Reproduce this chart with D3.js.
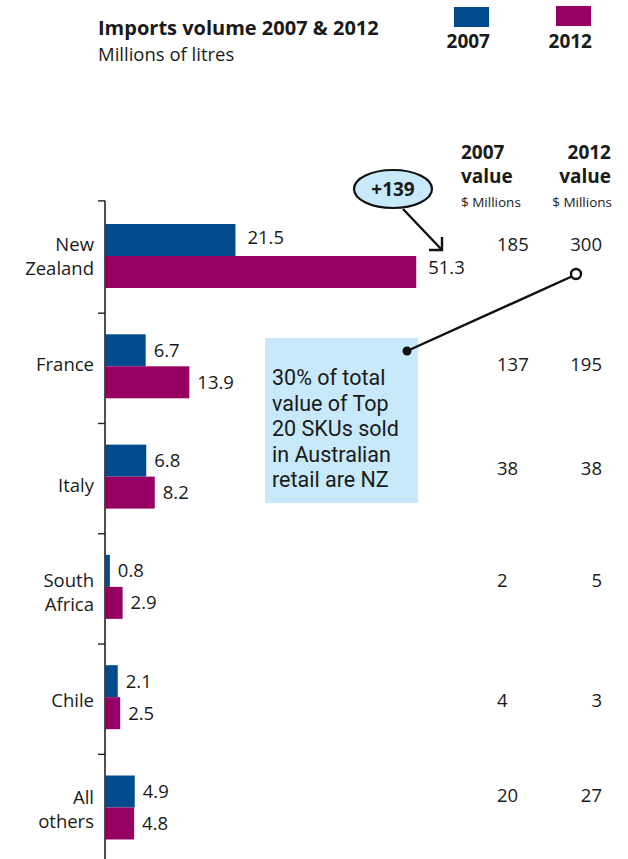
<!DOCTYPE html>
<html>
<head>
<meta charset="utf-8">
<script src="https://cdn.jsdelivr.net/npm/d3@7/dist/d3.min.js"></script>
<style>
  body { margin: 0; background: #fff; }
  text { font-family: "Open Sans", "Noto Sans", sans-serif; fill: #1a1a1a; }
</style>
</head>
<body>
<script>
// chart values
var categories = ["New Zealand", "France", "Italy", "South Africa", "Chile", "All others"];
var categoryLines = [["New", "Zealand"], ["France"], ["Italy"], ["South", "Africa"], ["Chile"], ["All", "others"]];
var years = ["2007", "2012"];
var volume2007 = [21.5, 6.7, 6.8, 0.8, 2.1, 4.9];
var volume2012 = [51.3, 13.9, 8.2, 2.9, 2.5, 4.8];
var value2007 = [185, 137, 38, 2, 4, 20];
var value2012 = [300, 195, 38, 5, 3, 27];
var calloutLines = ["30% of total", "value of Top", "20 SKUs sold", "in Australian", "retail are NZ"];
var changeLabel = "+139";

var colors = {"2007": "#004b8d", "2012": "#970062"};
// small hand offsets of the row texts, as in the original layout
var labelShift = [-5, 5, 15, 0, 10, -3];
var valueShift = [-5, 5, -2, 0, 10, -5];

var svg = d3.select("body").append("svg")
    .attr("width", 628).attr("height", 859);

var x = d3.scaleLinear().domain([0, 60]).range([105, 469]);
var y = d3.scaleBand().domain(categories).range([177.7, 885.8]).padding(0.42);
var sub = d3.scaleBand().domain(years).range([0, y.bandwidth()]);

// title
svg.append("text").attr("x", 98).attr("y", 35)
    .style("font-size", "20px").style("font-weight", "bold")
    .text("Imports volume 2007 & 2012");
svg.append("text").attr("x", 98).attr("y", 61)
    .style("font-size", "18.5px")
    .text("Millions of litres");

// legend
var legendX = {"2007": 454, "2012": 556};
var legend = svg.selectAll("g.legend").data(years).enter()
    .append("g").attr("class", "legend");
legend.append("rect")
    .attr("x", function(d) { return legendX[d]; })
    .attr("y", function(d, i) { return 7 - i; })
    .attr("width", 35).attr("height", 20)
    .attr("fill", function(d) { return colors[d]; });
legend.append("text")
    .attr("x", function(d) { return legendX[d] + 36; })
    .attr("y", 48)
    .attr("text-anchor", "end")
    .style("font-size", "19px").style("font-weight", "bold")
    .text(function(d) { return d; });

// axis line and ticks
var step = y.step();
svg.append("line")
    .attr("x1", 105).attr("x2", 105)
    .attr("y1", y(categories[0]) + y.bandwidth() / 2 - step / 2).attr("y2", 859)
    .attr("stroke", "#222").attr("stroke-width", 1.6);
svg.selectAll("line.tick").data(categories).enter()
    .append("line").attr("class", "tick")
    .attr("x1", 98).attr("x2", 105)
    .attr("y1", function(d, i) { return y(d) + y.bandwidth() / 2 - step / 2 + (i ? 2 : 0); })
    .attr("y2", function(d, i) { return y(d) + y.bandwidth() / 2 - step / 2 + (i ? 2 : 0); })
    .attr("stroke", "#222").attr("stroke-width", 1.4);

// bars
var rows = categories.map(function(c, i) {
    return {cat: c, i: i, vals: [
        {year: "2007", v: volume2007[i]},
        {year: "2012", v: volume2012[i]}
    ]};
});

var row = svg.selectAll("g.row").data(rows).enter()
    .append("g").attr("class", "row")
    .attr("transform", function(d) { return "translate(0," + y(d.cat) + ")"; });

row.selectAll("rect").data(function(d) { return d.vals; }).enter()
    .append("rect")
    .attr("x", x(0))
    .attr("y", function(d) { return sub(d.year); })
    .attr("width", function(d) { return x(d.v) - x(0); })
    .attr("height", sub.bandwidth())
    .attr("fill", function(d) { return colors[d.year]; });

row.selectAll("text.val").data(function(d) { return d.vals; }).enter()
    .append("text").attr("class", "val")
    .attr("x", function(d) { return x(d.v) + (d.v > 20 ? 12 : 8); })
    .attr("y", function(d) { return sub(d.year) + sub.bandwidth() / 2; })
    .attr("dy", function(d) { return d.v > 20 ? (d.year === "2007" ? "0.2em" : "0.1em") : "0.35em"; })
    .style("font-size", "18.5px")
    .text(function(d) { return d.v.toFixed(1); });

// category labels
svg.selectAll("text.cat").data(categories).enter()
    .append("text").attr("class", "cat")
    .attr("text-anchor", "end")
    .style("font-size", "18.5px")
    .each(function(d, i) {
        var t = d3.select(this);
        var base = y(d) + y.bandwidth() / 2 + labelShift[i];
        categoryLines[i].forEach(function(line, k) {
            t.append("tspan").attr("x", 94).attr("y", base + k * 24).text(line);
        });
    });

// value columns
var heads = [{x: 461, anchor: "start", year: "2007"}, {x: 611, anchor: "end", year: "2012"}];
heads.forEach(function(h) {
    svg.append("text").attr("x", h.x).attr("y", 159).attr("text-anchor", h.anchor)
        .style("font-size", "19px").style("font-weight", "bold").text(h.year);
    svg.append("text").attr("x", h.x).attr("y", 183).attr("text-anchor", h.anchor)
        .style("font-size", "19px").style("font-weight", "bold").text("value");
    svg.append("text").attr("x", h.x + (h.anchor === "end" ? 1 : 0)).attr("y", 207).attr("text-anchor", h.anchor)
        .style("font-size", "13.5px").text("$ Millions");
});

svg.selectAll("text.v07").data(value2007).enter()
    .append("text").attr("class", "v07")
    .attr("x", 497)
    .attr("y", function(d, i) { return y(categories[i]) + y.bandwidth() / 2 + valueShift[i]; })
    .style("font-size", "18.5px")
    .text(function(d) { return d; });
svg.selectAll("text.v12").data(value2012).enter()
    .append("text").attr("class", "v12")
    .attr("x", 602).attr("text-anchor", "end")
    .attr("y", function(d, i) { return y(categories[i]) + y.bandwidth() / 2 + valueShift[i]; })
    .style("font-size", "18.5px")
    .text(function(d) { return d; });

// +139 bubble and arrow
svg.append("path")
    .attr("d", "M403,209 L442,250 M442,237 L442,250 L429,250")
    .attr("fill", "none").attr("stroke", "#111").attr("stroke-width", 2.4);
svg.append("ellipse")
    .attr("cx", 393).attr("cy", 189).attr("rx", 39).attr("ry", 19)
    .attr("fill", "#c8e9f9").attr("stroke", "#111").attr("stroke-width", 2.2);
svg.append("text").attr("x", 393).attr("y", 196).attr("text-anchor", "middle")
    .style("font-size", "19px").style("font-weight", "bold").text(changeLabel);

// callout box
svg.append("rect")
    .attr("x", 265).attr("y", 338).attr("width", 153).attr("height", 165)
    .attr("fill", "#c8e9f9");
svg.selectAll("text.callout").data(calloutLines).enter()
    .append("text").attr("class", "callout")
    .attr("x", 272)
    .attr("y", function(d, i) { return 385 + i * 25.5; })
    .style("font-family", "Roboto, 'Open Sans', sans-serif")
    .style("font-size", "21.5px")
    .text(function(d) { return d; });

svg.append("line")
    .attr("x1", 407).attr("y1", 351).attr("x2", 575).attr("y2", 275)
    .attr("stroke", "#111").attr("stroke-width", 2.4);
svg.append("circle").attr("cx", 407).attr("cy", 351).attr("r", 4.5).attr("fill", "#111");
svg.append("circle").attr("cx", 576).attr("cy", 274).attr("r", 5)
    .attr("fill", "#fff").attr("stroke", "#111").attr("stroke-width", 2.4);
</script>
</body>
</html>
